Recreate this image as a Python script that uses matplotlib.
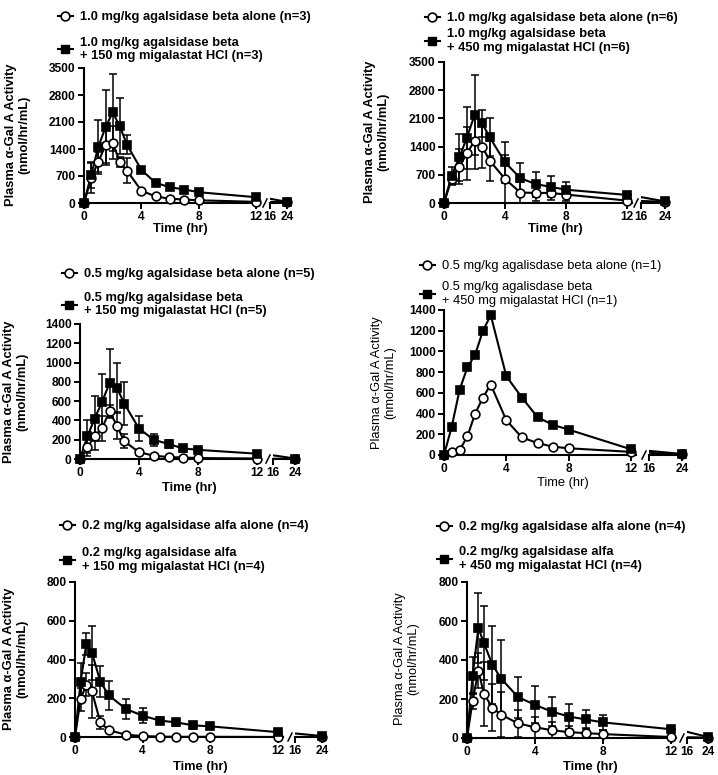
import numpy as np
import matplotlib.pyplot as plt
from matplotlib.lines import Line2D

plt.rcParams['font.family'] = ['Liberation Sans', 'DejaVu Sans']

# sampling times (hr)
t_beta = np.array([0, 0.5, 1, 1.5, 2, 2.5, 3, 4, 5, 6, 7, 8, 12, 24])
t_alfa = np.array([0, 0.33, 0.67, 1, 1.5, 2, 3, 4, 5, 6, 7, 8, 12, 24])

# 1.0 mg/kg beta + 150 mg
p1_alone = [0, 650, 1070, 1500, 1560, 1070, 840, 320, 170, 110, 90, 70, 30, 20]
p1_alone_sd = [0, 400, 260, 450, 430, 130, 330, 30, 20, 15, 10, 10, 10, 5]
p1_combo = [0, 730, 1460, 1960, 2350, 1990, 1510, 860, 520, 410, 350, 280, 150, 30]
p1_combo_sd = [0, 330, 700, 980, 1000, 720, 245, 60, 40, 30, 30, 30, 20, 10]

# 1.0 mg/kg beta + 450 mg
p2_alone = [0, 600, 900, 1230, 1540, 1400, 1050, 600, 260, 250, 250, 210, 60, 30]
p2_alone_sd = [0, 150, 430, 650, 700, 540, 500, 600, 250, 200, 180, 150, 50, 20]
p2_combo = [0, 680, 1130, 1620, 2180, 1980, 1630, 1010, 620, 470, 400, 330, 200, 40]
p2_combo_sd = [0, 220, 575, 770, 990, 340, 470, 510, 370, 310, 260, 190, 70, 10]

# 0.5 mg/kg beta + 150 mg
p3_alone = [0, 120, 240, 320, 495, 345, 185, 70, 35, 20, 15, 10, 5, 0]
p3_alone_sd = [0, 90, 150, 130, 60, 140, 70, 25, 10, 8, 5, 5, 3, 0]
p3_combo = [0, 235, 420, 595, 785, 740, 575, 315, 200, 155, 110, 95, 55, 5]
p3_combo_sd = [0, 170, 230, 285, 355, 260, 220, 130, 60, 45, 35, 25, 15, 3]

# 0.5 mg/kg beta + 450 mg (n=1, no SD)
p4_alone = [0, 30, 45, 180, 400, 555, 680, 335, 170, 115, 80, 65, 30, 5]
p4_combo = [0, 275, 630, 845, 970, 1200, 1350, 760, 555, 365, 290, 245, 55, 10]

# 0.2 mg/kg alfa + 150 mg
p5_alone = [0, 195, 270, 235, 75, 35, 12, 5, 2, 1, 1, 1, 0, 0]
p5_alone_sd = [0, 60, 60, 135, 35, 8, 5, 3, 1, 1, 1, 1, 0, 0]
p5_combo = [0, 285, 480, 435, 285, 215, 145, 110, 85, 75, 60, 55, 25, 5]
p5_combo_sd = [0, 95, 55, 140, 80, 75, 50, 40, 20, 20, 20, 12, 5, 2]

# 0.2 mg/kg alfa + 450 mg
p6_alone = [0, 190, 345, 225, 155, 120, 75, 55, 40, 30, 25, 20, 5, 2]
p6_alone_sd = [0, 40, 90, 165, 120, 115, 70, 55, 40, 30, 25, 20, 5, 2]
p6_combo = [0, 320, 565, 485, 375, 305, 210, 170, 135, 110, 95, 80, 45, 5]
p6_combo_sd = [0, 95, 180, 190, 200, 200, 105, 95, 75, 65, 50, 40, 10, 2]

labels1 = ['1.0 mg/kg agalsidase beta alone (n=3)',
           '1.0 mg/kg agalsidase beta\n+ 150 mg migalastat HCl (n=3)']
labels2 = ['1.0 mg/kg agalsidase beta alone (n=6)',
           '1.0 mg/kg agalsidase beta\n+ 450 mg migalastat HCl (n=6)']
labels3 = ['0.5 mg/kg agalsidase beta alone (n=5)',
           '0.5 mg/kg agalsidase beta\n+ 150 mg migalastat HCl (n=5)']
labels4 = ['0.5 mg/kg agalisdase beta alone (n=1)',
           '0.5 mg/kg agalisdase beta\n+ 450 mg migalastat HCl (n=1)']
labels5 = ['0.2 mg/kg agalsidase alfa alone (n=4)',
           '0.2 mg/kg agalsidase alfa\n+ 150 mg migalastat HCl (n=4)']
labels6 = ['0.2 mg/kg agalsidase alfa alone (n=4)',
           '0.2 mg/kg agalsidase alfa\n+ 450 mg migalastat HCl (n=4)']

W, H = 718, 775
FS = 9.3
TFS = 8.6
fig = plt.figure(figsize=(W / 100, H / 100), dpi=100)


def fbox(x0, x1, ytop, ybot):
    return [x0 / W, 1 - ybot / H, (x1 - x0) / W, (ybot - ytop) / H]


def panel(t, alone, alone_sd, combo, combo_sd, labels, ymax, ystep, lay):
    x0, x12, r16, r24, ytop, ybot = lay['geom']
    w = lay['weight']
    x_end = x12 + 0.3 * (x12 - x0) / 12
    ax_l = fig.add_axes(fbox(x0, x_end, ytop, ybot))
    ax_r = fig.add_axes(fbox(r16, r24, ytop, ybot), sharey=ax_l)
    ax_l.set_xlim(0, 12.3)
    ax_r.set_xlim(16, 24)
    ax_l.set_ylim(0, ymax)

    series = [(alone, alone_sd, 'o', 'white'), (combo, combo_sd, 's', 'black')]
    for ax, lo, hi in [(ax_l, 0, 12.3), (ax_r, 16, 24)]:
        sel = (t >= lo) & (t <= hi)
        for y, sd, mk, fc in series:
            y = np.asarray(y, float)
            ax.plot(t, y, '-', color='k', lw=1.5, zorder=2)
            if sd is not None:
                sd = np.asarray(sd, float)
                eb = ax.errorbar(t[sel], y[sel], yerr=sd[sel], fmt='none', ecolor='k',
                                 elinewidth=1.1, capsize=3.2, capthick=1.1, zorder=2)
                for a in list(eb.lines[1]) + list(eb.lines[2]):
                    a.set_clip_on(False)
            ax.plot(t[sel], y[sel], mk, ms=6.3, mfc=fc, mec='k', mew=1.2,
                    clip_on=False, zorder=3)

    for ax in (ax_l, ax_r):
        ax.spines['top'].set_visible(False)
        ax.spines['right'].set_visible(False)
        for s in ax.spines.values():
            s.set_linewidth(1.5)
        ax.tick_params(direction='out', length=4, width=1.4, labelsize=TFS, pad=2)
    ax_r.spines['left'].set_visible(False)
    ax_r.tick_params(axis='y', left=False, labelleft=False)
    ax_l.set_xticks([0, 4, 8, 12])
    ax_r.set_xticks([16, 24])
    ax_l.set_yticks(np.arange(0, ymax + 1, ystep))
    for ax in (ax_l, ax_r):
        for lab in ax.get_xticklabels() + ax.get_yticklabels():
            lab.set_fontweight(lay['tick_weight'])

    # axis break mark
    fig.add_artist(Line2D([(r16 - 7) / W, (r16 - 3) / W],
                          [1 - (ybot + 4) / H, 1 - (ybot - 4) / H],
                          color='k', lw=1.1))

    handles = [Line2D([], [], color='k', lw=1.5, marker='o', ms=6.3, mfc='white', mec='k', mew=1.2),
               Line2D([], [], color='k', lw=1.5, marker='s', ms=6.3, mfc='black', mec='k')]
    hx, hy, ls = lay['legend']
    ax_l.legend(handles, labels, loc='upper left', bbox_to_anchor=(hx / W, 1 - (hy - 5) / H),
                bbox_transform=fig.transFigure, frameon=False, borderpad=0, borderaxespad=0,
                handlelength=1.15, handletextpad=0.55, labelspacing=ls,
                prop={'size': FS, 'weight': w})

    cx, cy = lay['ylabel']
    fig.text(cx / W, 1 - cy / H, 'Plasma α-Gal A Activity\n(nmol/hr/mL)', rotation=90,
             ha='center', va='center', fontsize=FS, weight=lay['ylabel_weight'], linespacing=1.15)
    cx, cy = lay['xlabel']
    fig.text(cx / W, 1 - cy / H, 'Time (hr)', ha='center', va='center', fontsize=FS, weight=w)


panel(t_beta, p1_alone, p1_alone_sd, p1_combo, p1_combo_sd, labels1, 3500, 700,
      dict(geom=(84, 256, 270, 287, 68, 203), legend=(58, 16, 1.05), ylabel=(18, 135),
           xlabel=(180, 229), weight='bold', tick_weight='bold', ylabel_weight='bold'))
panel(t_beta, p2_alone, p2_alone_sd, p2_combo, p2_combo_sd, labels2, 3500, 700,
      dict(geom=(444, 627, 641, 665, 62, 203), legend=(425, 17, 0.3), ylabel=(377, 132),
           xlabel=(555, 229), weight='bold', tick_weight='bold', ylabel_weight='bold'))
panel(t_beta, p3_alone, p3_alone_sd, p3_combo, p3_combo_sd, labels3, 1400, 200,
      dict(geom=(80, 257, 273, 295, 324, 459), legend=(62, 273, 0.9), ylabel=(16, 392),
           xlabel=(189, 488), weight='bold', tick_weight='bold', ylabel_weight='bold'))
panel(t_beta, p4_alone, None, p4_combo, None, labels4, 1400, 200,
      dict(geom=(444, 631, 649, 682, 310, 455), legend=(420, 265, 0.7), ylabel=(384, 383),
           xlabel=(563, 483), weight='normal', tick_weight='bold', ylabel_weight='normal'))
panel(t_alfa, p5_alone, p5_alone_sd, p5_combo, p5_combo_sd, labels5, 800, 200,
      dict(geom=(75, 278, 295, 322, 582, 737), legend=(60, 525, 1.15), ylabel=(16, 659),
           xlabel=(200, 767), weight='bold', tick_weight='bold', ylabel_weight='bold'))
panel(t_alfa, p6_alone, p6_alone_sd, p6_combo, p6_combo_sd, labels6, 800, 200,
      dict(geom=(467, 671, 687, 708, 582, 738), legend=(437, 526, 1.0), ylabel=(407, 659),
           xlabel=(590, 767), weight='bold', tick_weight='bold', ylabel_weight='normal'))

fig.savefig('out.png', dpi=100)
